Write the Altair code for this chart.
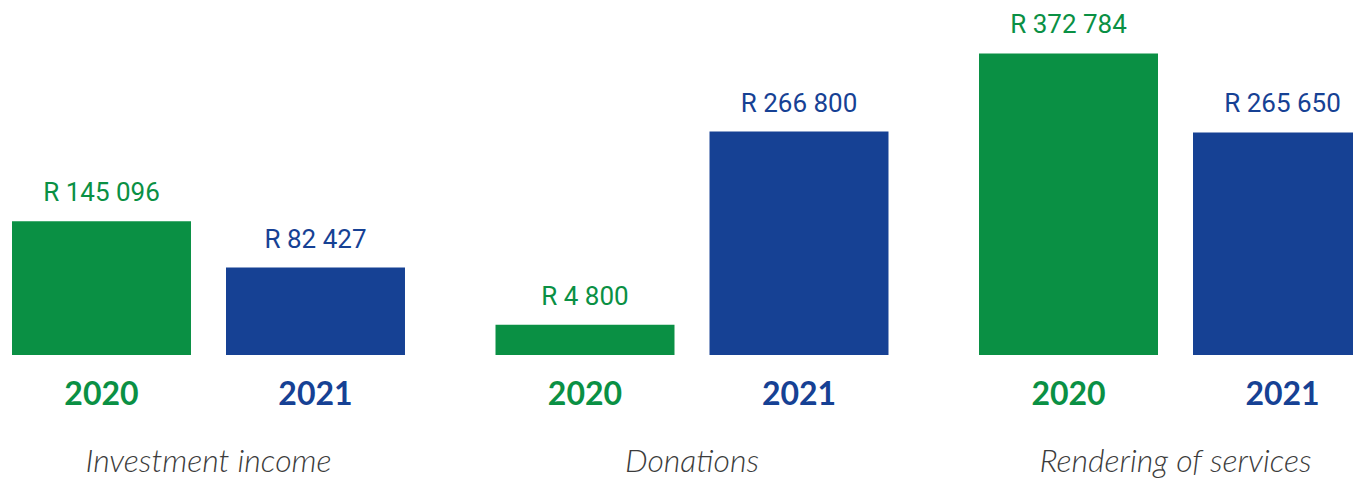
import altair as alt
import pandas as pd

# ---- data ----
categories = ["Investment income", "Donations", "Rendering of services"]
years = ["2020", "2021"]
values_2020 = [145096, 4800, 372784]
values_2021 = [82427, 266800, 265650]
year_colors = ["#0a9044", "#164194"]

rows = []
for c, v0, v1 in zip(categories, values_2020, values_2021):
    for yr, v in zip(years, (v0, v1)):
        rows.append({"category": c, "year": yr, "value": v,
                     "label": "R " + f"{v:,}".replace(",", " ")})
df = pd.DataFrame(rows)
cat_df = pd.DataFrame({"category": categories})

# bars start from a common baseline below zero (as in the infographic)
BASE = -36210
TOP = 434360
BOTTOM = -205727  # domain end at the bottom of the view (labels live below the bars)

x = alt.X("category:N", sort=categories, axis=None,
          scale=alt.Scale(domain=categories, range=[4, 1364],
                          paddingInner=0.1872, paddingOuter=0))
xo = alt.XOffset("year:N", sort=years,
                 scale=alt.Scale(domain=years, paddingInner=0.1636, paddingOuter=0))
y = alt.Y("value:Q", axis=None,
          scale=alt.Scale(domain=[BOTTOM, TOP], zero=False, nice=False))
color = alt.Color("year:N", scale=alt.Scale(domain=years, range=year_colors), legend=None)

bars = alt.Chart(df).mark_bar().encode(
    x=x, xOffset=xo, y=y, y2=alt.datum(BASE), color=color)

vals = alt.Chart(df).mark_text(
    font="Roboto", fontSize=26, baseline="alphabetic", dy=-20
).encode(x=x, xOffset=xo, y=y, text="label:N", color=color)

yrs = alt.Chart(df).mark_text(
    font="Lato", fontWeight="bold", fontSize=32, baseline="alphabetic"
).encode(x=x, xOffset=xo, y=alt.value(397), text="year:N", color=color)

cats = alt.Chart(cat_df).mark_text(
    font="Lato", fontStyle="italic", fontWeight=300, fontSize=32,
    baseline="alphabetic", color="#3c3c3c"
).encode(x=x, y=alt.value(464), text="category:N")

chart = alt.layer(bars, vals, yrs, cats).properties(
    width=1345, height=472, padding=0, background="white",
    autosize=alt.AutoSizeParams(type="none")
).configure_view(stroke=None)

chart.save("out.html", embed_options={"renderer": "svg", "actions": False})
